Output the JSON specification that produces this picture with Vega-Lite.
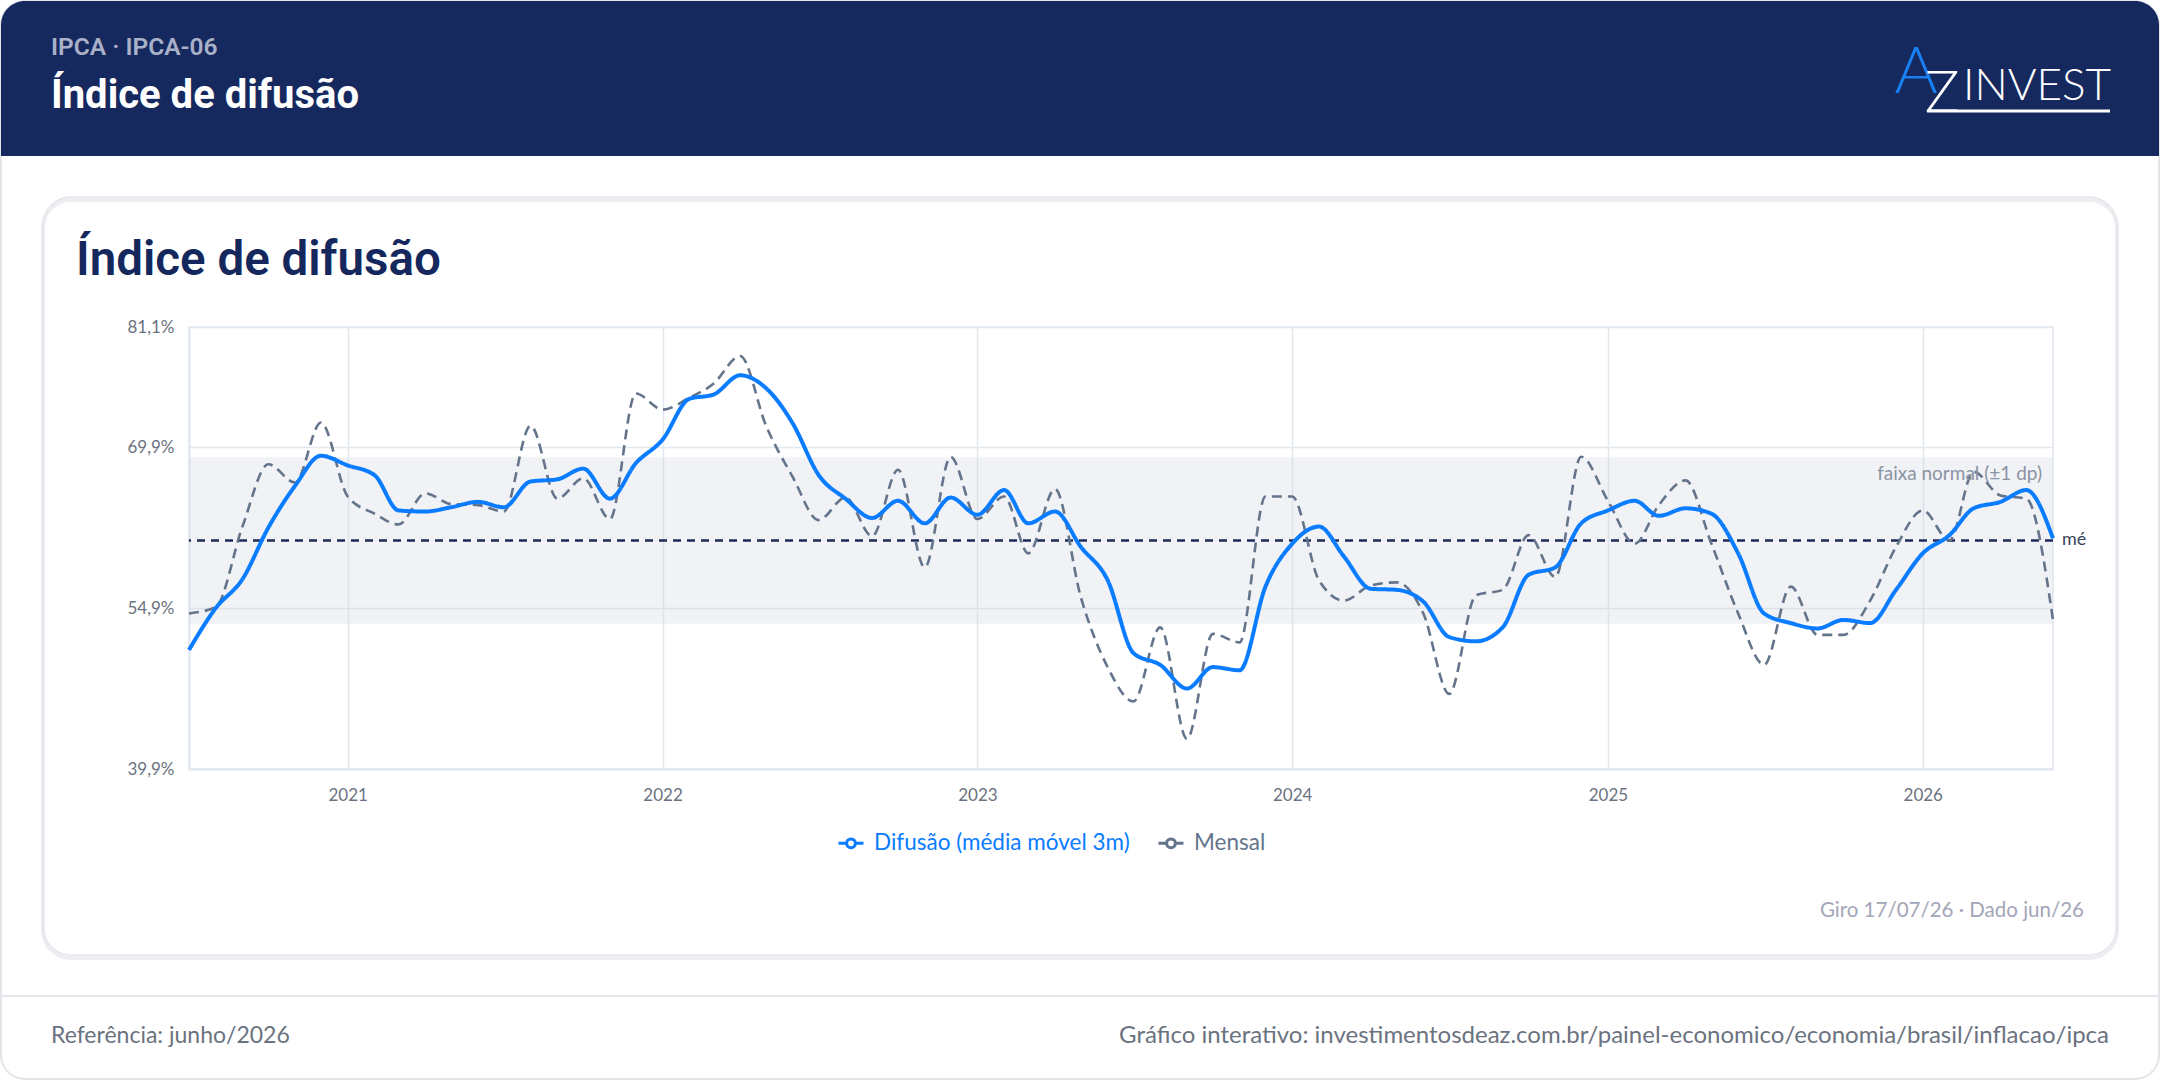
{
  "$schema": "https://vega.github.io/schema/vega-lite/v6.json",
  "width": 1864,
  "height": 442,
  "autosize": {"type": "none"},
  "padding": {"left": 189, "top": 327, "right": 107, "bottom": 311},
  "background": "#ffffff",
  "config": {
    "view": {"stroke": "#e2e8f0", "strokeWidth": 1.5},
    "font": "Lato"
  },
  "layer": [
    {
      "data": {"values": [{}]},
      "mark": {"type": "rect", "fill": "#ffffff", "fillOpacity": 0, "stroke": "#e3e5eb", "strokeWidth": 2, "cornerRadius": 24},
      "encoding": {"x": {"value": -188}, "x2": {"value": 1970}, "y": {"value": -326}, "y2": {"value": 752}}
    },
    {
      "data": {"values": [{}]},
      "mark": {"type": "rect", "fill": "#16295e", "cornerRadiusTopLeft": 24, "cornerRadiusTopRight": 24},
      "encoding": {"x": {"value": -188}, "x2": {"value": 1970}, "y": {"value": -326}, "y2": {"value": -171}}
    },
    {
      "data": {"values": [{}]},
      "mark": {"type": "rect", "fill": "#ffffff", "fillOpacity": 0, "stroke": "#eceef2", "strokeWidth": 4, "cornerRadius": 28},
      "encoding": {"x": {"value": -146}, "x2": {"value": 1928}, "y": {"value": -127}, "y2": {"value": 631}}
    },
    {
      "data": {"values": [{}]},
      "mark": {"type": "rect", "fill": "#ffffff", "fillOpacity": 0, "stroke": "#e3e6ec", "strokeWidth": 1.5, "cornerRadius": 28},
      "encoding": {"x": {"value": -146}, "x2": {"value": 1928}, "y": {"value": -130}, "y2": {"value": 628}}
    },
    {
      "data": {"values": [{}]},
      "mark": {"type": "rule", "stroke": "#e5e7eb", "strokeWidth": 2},
      "encoding": {"x": {"value": -188}, "x2": {"value": 1970}, "y": {"value": 669}}
    },
    {
      "data": {"values": [{"media": 61.21, "faixa_inf": 53.45, "faixa_sup": 68.97}]},
      "mark": {"type": "rect", "fill": "#d0d5de", "opacity": 0.3},
      "encoding": {
        "y": {"field": "faixa_inf", "type": "quantitative", "title": null},
        "y2": {"field": "faixa_sup"}
      }
    },
    {
      "data": {"values": [{"media": 61.21, "faixa_inf": 53.45, "faixa_sup": 68.97}]},
      "mark": {"type": "rule", "stroke": "#1e2b5a", "strokeWidth": 2.5, "strokeDash": [8, 6]},
      "encoding": {
        "y": {"field": "media", "type": "quantitative", "title": null}
      }
    },
    {
      "data": {"values": [
        {"mes": "2020-07-01", "difusao": 51.0, "mensal": 54.4},
        {"mes": "2020-08-01", "difusao": 54.9, "mensal": 55.0},
        {"mes": "2020-09-01", "difusao": 57.6, "mensal": 62.5},
        {"mes": "2020-10-01", "difusao": 62.4, "mensal": 68.3},
        {"mes": "2020-11-01", "difusao": 66.3, "mensal": 66.6},
        {"mes": "2020-12-01", "difusao": 69.1, "mensal": 72.2},
        {"mes": "2021-01-01", "difusao": 68.2, "mensal": 65.3},
        {"mes": "2021-02-01", "difusao": 67.3, "mensal": 63.7},
        {"mes": "2021-03-01", "difusao": 64.0, "mensal": 62.7},
        {"mes": "2021-04-01", "difusao": 63.9, "mensal": 65.6},
        {"mes": "2021-05-01", "difusao": 64.3, "mensal": 64.6},
        {"mes": "2021-06-01", "difusao": 64.8, "mensal": 64.5},
        {"mes": "2021-07-01", "difusao": 64.3, "mensal": 63.9},
        {"mes": "2021-08-01", "difusao": 66.7, "mensal": 71.9},
        {"mes": "2021-09-01", "difusao": 66.9, "mensal": 65.1},
        {"mes": "2021-10-01", "difusao": 67.9, "mensal": 67.0},
        {"mes": "2021-11-01", "difusao": 65.1, "mensal": 63.2},
        {"mes": "2021-12-01", "difusao": 68.4, "mensal": 74.9},
        {"mes": "2022-01-01", "difusao": 70.6, "mensal": 73.4},
        {"mes": "2022-02-01", "difusao": 74.4, "mensal": 74.5},
        {"mes": "2022-03-01", "difusao": 74.8, "mensal": 75.8},
        {"mes": "2022-04-01", "difusao": 76.6, "mensal": 78.4},
        {"mes": "2022-05-01", "difusao": 75.4, "mensal": 71.9},
        {"mes": "2022-06-01", "difusao": 72.1, "mensal": 67.1},
        {"mes": "2022-07-01", "difusao": 67.3, "mensal": 63.1},
        {"mes": "2022-08-01", "difusao": 65.1, "mensal": 65.2},
        {"mes": "2022-09-01", "difusao": 63.3, "mensal": 61.6},
        {"mes": "2022-10-01", "difusao": 64.9, "mensal": 67.8},
        {"mes": "2022-11-01", "difusao": 62.8, "mensal": 58.7},
        {"mes": "2022-12-01", "difusao": 65.2, "mensal": 69.0},
        {"mes": "2023-01-01", "difusao": 63.6, "mensal": 63.2},
        {"mes": "2023-02-01", "difusao": 65.9, "mensal": 65.3},
        {"mes": "2023-03-01", "difusao": 62.8, "mensal": 60.0},
        {"mes": "2023-04-01", "difusao": 63.9, "mensal": 66.0},
        {"mes": "2023-05-01", "difusao": 60.6, "mensal": 55.9},
        {"mes": "2023-06-01", "difusao": 57.5, "mensal": 49.4},
        {"mes": "2023-07-01", "difusao": 50.7, "mensal": 46.2},
        {"mes": "2023-08-01", "difusao": 49.6, "mensal": 53.1},
        {"mes": "2023-09-01", "difusao": 47.4, "mensal": 42.7},
        {"mes": "2023-10-01", "difusao": 49.4, "mensal": 52.5},
        {"mes": "2023-11-01", "difusao": 49.1, "mensal": 51.7},
        {"mes": "2023-12-01", "difusao": 56.9, "mensal": 65.3},
        {"mes": "2024-01-01", "difusao": 60.9, "mensal": 65.3},
        {"mes": "2024-02-01", "difusao": 62.5, "mensal": 57.5},
        {"mes": "2024-03-01", "difusao": 59.7, "mensal": 55.6},
        {"mes": "2024-04-01", "difusao": 56.7, "mensal": 57.0},
        {"mes": "2024-05-01", "difusao": 56.6, "mensal": 57.3},
        {"mes": "2024-06-01", "difusao": 55.5, "mensal": 54.4},
        {"mes": "2024-07-01", "difusao": 52.2, "mensal": 46.9},
        {"mes": "2024-08-01", "difusao": 51.8, "mensal": 56.1},
        {"mes": "2024-09-01", "difusao": 53.1, "mensal": 56.6},
        {"mes": "2024-10-01", "difusao": 58.0, "mensal": 61.7},
        {"mes": "2024-11-01", "difusao": 58.7, "mensal": 57.8},
        {"mes": "2024-12-01", "difusao": 62.8, "mensal": 69.0},
        {"mes": "2025-01-01", "difusao": 64.0, "mensal": 64.9},
        {"mes": "2025-02-01", "difusao": 64.9, "mensal": 60.9},
        {"mes": "2025-03-01", "difusao": 63.5, "mensal": 64.5},
        {"mes": "2025-04-01", "difusao": 64.2, "mensal": 66.8},
        {"mes": "2025-05-01", "difusao": 63.7, "mensal": 60.9},
        {"mes": "2025-06-01", "difusao": 60.0, "mensal": 54.4},
        {"mes": "2025-07-01", "difusao": 54.4, "mensal": 49.6},
        {"mes": "2025-08-01", "difusao": 53.5, "mensal": 56.9},
        {"mes": "2025-09-01", "difusao": 53.0, "mensal": 52.4},
        {"mes": "2025-10-01", "difusao": 53.8, "mensal": 52.4},
        {"mes": "2025-11-01", "difusao": 53.5, "mensal": 55.6},
        {"mes": "2025-12-01", "difusao": 56.6, "mensal": 60.6},
        {"mes": "2026-01-01", "difusao": 60.0, "mensal": 64.0},
        {"mes": "2026-02-01", "difusao": 61.7, "mensal": 61.2},
        {"mes": "2026-03-01", "difusao": 64.2, "mensal": 67.6},
        {"mes": "2026-04-01", "difusao": 64.8, "mensal": 65.4},
        {"mes": "2026-05-01", "difusao": 65.9, "mensal": 65.1},
        {"mes": "2026-06-01", "difusao": 61.4, "mensal": 53.8}
      ]},
      "transform": [{"fold": ["mensal", "difusao"], "as": ["serie", "valor"]}],
      "mark": {"type": "line", "interpolate": "monotone", "strokeJoin": "round"},
      "encoding": {
        "x": {
          "field": "mes", "type": "temporal", "title": null,
          "scale": {"type": "utc", "nice": false},
          "axis": {
            "format": "%Y", "tickCount": "year", "ticks": false,
            "labelFont": "Lato", "labelFontSize": 17, "labelColor": "#6b7280", "labelPadding": 18,
            "domainColor": "#e2e8f0", "domainWidth": 2,
            "gridColor": "#e2e8f0", "gridWidth": 1.5
          }
        },
        "y": {
          "field": "valor", "type": "quantitative", "title": null,
          "scale": {"domain": [39.9, 81.1], "nice": false, "zero": false},
          "axis": {
            "values": [39.9, 54.9, 69.9, 81.1],
            "labelExpr": "replace(format(datum.value, '.1f'), '.', ',') + '%'",
            "ticks": false,
            "labelFont": "Lato", "labelFontSize": 17, "labelColor": "#6b7280", "labelPadding": 15,
            "domainColor": "#e2e8f0", "domainWidth": 2,
            "gridColor": "#e2e8f0", "gridWidth": 1.5
          }
        },
        "color": {
          "field": "serie", "type": "nominal",
          "scale": {"domain": ["difusao", "mensal"], "range": ["#0a7cff", "#64748b"]},
          "legend": {
            "orient": "none", "legendX": 648, "legendY": 502, "direction": "horizontal",
            "title": null, "padding": 0,
            "symbolType": "M-1,0H-0.35M0.35,0H1M-0.35,0A0.35,0.35 0 1,0 0.35,0A0.35,0.35 0 1,0 -0.35,0",
            "symbolSize": 625, "symbolStrokeWidth": 3, "symbolFillColor": "#ffffff",
            "labelFont": "Lato", "labelFontSize": 22.5, "labelOffset": 9, "columnPadding": 22, "labelLimit": 500,
            "labelExpr": "datum.value == 'difusao' ? 'Difusão (média móvel 3m)' : 'Mensal'",
            "labelColor": {"expr": "datum.value == 'mensal' ? '#64748b' : '#0a7cff'"}
          }
        },
        "strokeDash": {
          "condition": {"test": "datum.serie == 'mensal'", "value": [10, 6]},
          "value": [1, 0]
        },
        "strokeWidth": {
          "condition": {"test": "datum.serie == 'mensal'", "value": 2.6},
          "value": 4
        }
      }
    },
    {
      "data": {"values": [{"t": "faixa normal (±1 dp)", "faixa_sup": 68.97}]},
      "mark": {"type": "text", "align": "right", "baseline": "middle", "dy": 17, "fontSize": 19, "font": "Lato", "color": "#8a93a3"},
      "encoding": {
        "x": {"value": 1853},
        "y": {"field": "faixa_sup", "type": "quantitative", "title": null},
        "text": {"field": "t"}
      }
    },
    {
      "data": {"values": [{"t": "média", "media": 61.21}]},
      "mark": {"type": "text", "align": "left", "baseline": "middle", "fontSize": 18, "font": "Lato", "color": "#3a4256", "limit": 25, "ellipsis": "\u200b"},
      "encoding": {
        "x": {"value": 1873},
        "y": {"field": "media", "type": "quantitative", "title": null},
        "text": {"field": "t"}
      }
    },
    {
      "data": {"values": [{"t": "IPCA · IPCA-06"}]},
      "mark": {"type": "text", "align": "left", "baseline": "middle", "fontSize": 24.5, "fontWeight": 600, "font": "Roboto", "color": "#a9b1c8"},
      "encoding": {"x": {"value": -138}, "y": {"value": -279}, "text": {"field": "t"}}
    },
    {
      "data": {"values": [{"t": "Índice de difusão"}]},
      "mark": {"type": "text", "align": "left", "baseline": "alphabetic", "fontSize": 40, "fontWeight": "bold", "font": "Roboto", "color": "#ffffff"},
      "encoding": {"x": {"value": -138}, "y": {"value": -219}, "text": {"field": "t"}}
    },
    {
      "data": {"values": [{"t": "A"}]},
      "mark": {"type": "text", "align": "center", "baseline": "alphabetic", "fontSize": 66, "fontWeight": 300, "font": "Lato", "color": "#1a7ff0"},
      "encoding": {"x": {"value": 1727}, "y": {"value": -234}, "text": {"field": "t"}}
    },
    {
      "data": {"values": [{"t": "Z"}]},
      "mark": {"type": "text", "align": "center", "baseline": "alphabetic", "fontSize": 58, "fontWeight": 300, "font": "Lato", "color": "#ffffff"},
      "encoding": {"x": {"value": 1753}, "y": {"value": -215}, "text": {"field": "t"}}
    },
    {
      "data": {"values": [{"t": "INVEST"}]},
      "mark": {"type": "text", "align": "left", "baseline": "alphabetic", "fontSize": 44, "fontWeight": 300, "font": "Lato", "color": "#ffffff"},
      "encoding": {"x": {"value": 1774}, "y": {"value": -227}, "text": {"field": "t"}}
    },
    {
      "data": {"values": [{}]},
      "mark": {"type": "rule", "stroke": "#ffffff", "strokeWidth": 3},
      "encoding": {"x": {"value": 1738}, "x2": {"value": 1921}, "y": {"value": -216}}
    },
    {
      "data": {"values": [{"t": "Índice de difusão"}]},
      "mark": {"type": "text", "align": "left", "baseline": "alphabetic", "fontSize": 47.5, "fontWeight": 600, "font": "Roboto", "color": "#14285e"},
      "encoding": {"x": {"value": -113}, "y": {"value": -52}, "text": {"field": "t"}}
    },
    {
      "data": {"values": [{"t": "Giro 17/07/26 ·  Dado jun/26"}]},
      "mark": {"type": "text", "align": "right", "baseline": "middle", "fontSize": 20.5, "font": "Lato", "color": "#a3a6b8"},
      "encoding": {"x": {"value": 1895}, "y": {"value": 584}, "text": {"field": "t"}}
    },
    {
      "data": {"values": [{"t": "Referência: junho/2026"}]},
      "mark": {"type": "text", "align": "left", "baseline": "middle", "fontSize": 23, "font": "Lato", "color": "#6b7280"},
      "encoding": {"x": {"value": -138}, "y": {"value": 709}, "text": {"field": "t"}}
    },
    {
      "data": {"values": [{"t": "Gráfico interativo: investimentosdeaz.com.br/painel-economico/economia/brasil/inflacao/ipca"}]},
      "mark": {"type": "text", "align": "right", "baseline": "middle", "fontSize": 24, "font": "Lato", "color": "#6b7280"},
      "encoding": {"x": {"value": 1920}, "y": {"value": 709}, "text": {"field": "t"}}
    }
  ]
}
